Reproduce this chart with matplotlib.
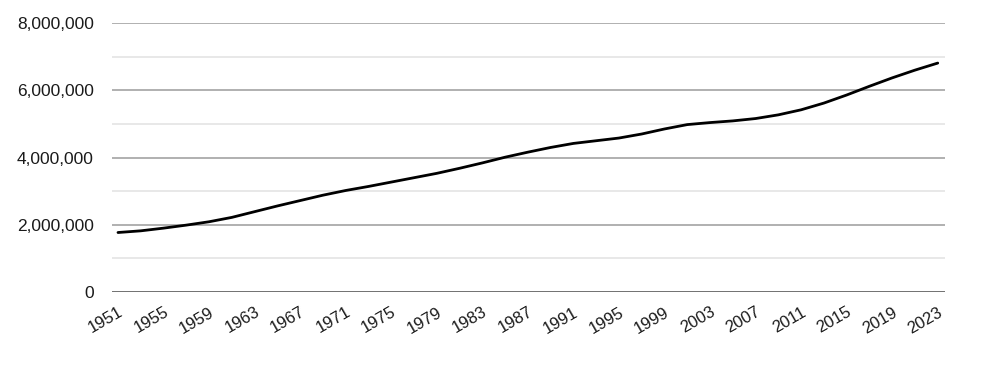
import matplotlib
matplotlib.use("Agg")
import matplotlib.pyplot as plt
from matplotlib.ticker import FuncFormatter, MultipleLocator

years = [1951, 1953, 1955, 1957, 1959, 1961, 1963, 1965, 1967, 1969, 1971, 1973,
         1975, 1977, 1979, 1981, 1983, 1985, 1987, 1989, 1991, 1993, 1995, 1997,
         1999, 2001, 2003, 2005, 2007, 2009, 2011, 2013, 2015, 2017, 2019, 2021, 2023]
values_m = [1.77, 1.82, 1.90, 1.99, 2.09, 2.22, 2.39, 2.56, 2.72, 2.88, 3.02, 3.14,
            3.27, 3.40, 3.53, 3.68, 3.84, 4.01, 4.16, 4.30, 4.42, 4.50, 4.58, 4.70,
            4.85, 4.98, 5.04, 5.09, 5.16, 5.27, 5.42, 5.62, 5.86, 6.12, 6.37, 6.60, 6.81]
values = [v * 1_000_000 for v in values_m]
tick_years = list(range(1951, 2024, 4))

plt.rcParams['font.family'] = ['Liberation Sans', 'DejaVu Sans']

fig = plt.figure(figsize=(9.82, 3.72), dpi=100)
ax = fig.add_axes([0.114, 0.215, 0.848, 0.723])

ax.plot(years, values, color='black', lw=2.0, solid_capstyle='round', zorder=3)

ax.set_xlim(1950.47, 2023.61)
ax.set_ylim(0, 8_000_000)
ax.yaxis.set_major_locator(MultipleLocator(2_000_000))
ax.yaxis.set_minor_locator(MultipleLocator(1_000_000))
ax.yaxis.set_major_formatter(FuncFormatter(lambda v, p: f"{int(v):,}"))
ax.grid(axis='y', which='major', color='#aaaaaa', lw=1.3)
ax.grid(axis='y', which='minor', color='#e2e2e2', lw=1.1)
ax.axhline(0, color='#606060', lw=1.8, zorder=2)

ax.set_xticks(tick_years)
ax.set_xticklabels([str(y) for y in tick_years], rotation=30, ha='right',
                   rotation_mode='anchor', fontsize=12, color='#1a1a1a')
ax.tick_params(axis='x', length=0, pad=9)
ax.tick_params(axis='y', which='both', length=0, pad=13, labelsize=12.5, labelcolor='#1a1a1a')

for s in ax.spines.values():
    s.set_visible(False)

fig.savefig('out.png', dpi=100, facecolor='white')
